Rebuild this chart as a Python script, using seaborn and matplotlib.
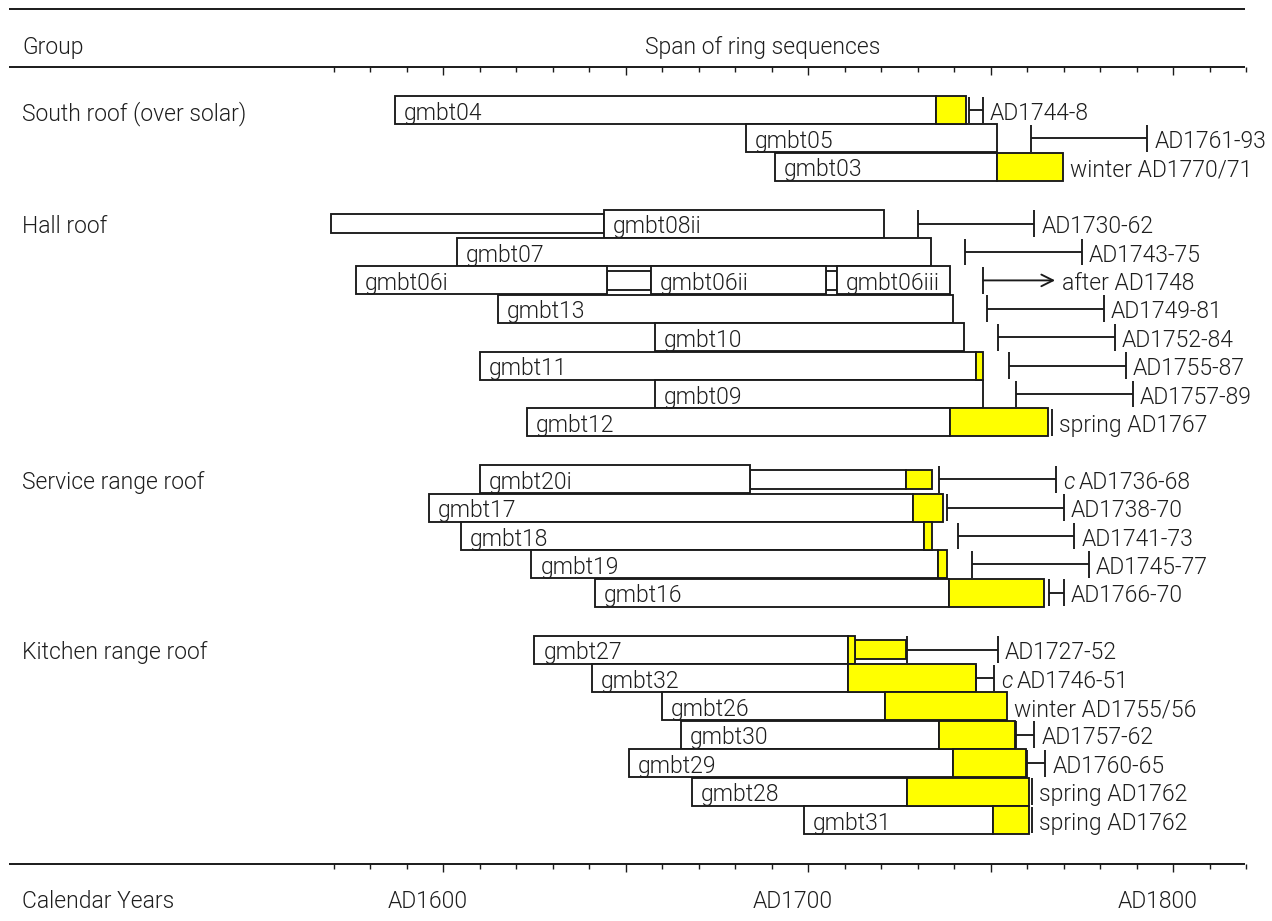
import matplotlib
matplotlib.use("Agg")
import matplotlib.pyplot as plt
import seaborn as sns
import pandas as pd

# ---------------- data ----------------
groups = ["South roof (over solar)", "Hall roof", "Service range roof", "Kitchen range roof"]
group_members = [
    ["04", "05", "03"],
    ["08", "07", "06", "13", "10", "11", "09", "12"],
    ["20", "17", "18", "19", "16"],
    ["27", "32", "26", "30", "29", "28", "31"],
]

# bar segments: sample, start year, end year, fill, full/narrow
seg_sample = ["04", "04", "05", "03", "03",
              "08", "08", "07", "06", "06", "06", "06", "06", "13", "10", "11", "11", "09", "12", "12",
              "20", "20", "20", "17", "17", "18", "18", "19", "19", "16", "16",
              "27", "27", "27", "32", "32", "26", "26", "30", "30", "29", "29", "28", "28", "31", "31"]
seg_start = [1586.8, 1735.0, 1683.0, 1691.0, 1751.7,
             1569.2, 1644.0, 1603.8, 1576.1, 1644.9, 1656.9, 1704.9, 1707.9, 1615.0, 1658.0, 1610.1, 1745.9, 1658.0, 1623.0, 1738.9,
             1610.0, 1684.0, 1726.8, 1596.1, 1728.8, 1604.9, 1731.9, 1624.2, 1735.7, 1641.7, 1738.7,
             1625.0, 1710.9, 1712.8, 1640.8, 1710.9, 1660.0, 1721.0, 1665.1, 1735.8, 1651.0, 1739.8, 1668.1, 1727.0, 1698.8, 1750.8]
seg_end = [1735.0, 1743.3, 1751.7, 1751.7, 1769.8,
           1644.0, 1720.9, 1733.8, 1644.9, 1656.9, 1704.9, 1707.9, 1738.9, 1739.7, 1742.8, 1745.9, 1747.9, 1747.9, 1738.9, 1765.8,
           1684.0, 1726.8, 1733.9, 1728.8, 1736.9, 1731.9, 1733.9, 1735.7, 1738.0, 1738.7, 1764.6,
           1710.9, 1712.8, 1726.8, 1710.9, 1745.9, 1721.0, 1754.6, 1735.8, 1756.6, 1739.8, 1759.8, 1727.0, 1760.6, 1750.8, 1760.6]
seg_fill = ["w", "y", "w", "w", "y",
            "w", "w", "w", "w", "w", "w", "w", "w", "w", "w", "w", "y", "w", "w", "y",
            "w", "w", "y", "w", "y", "w", "y", "w", "y", "w", "y",
            "w", "y", "y", "w", "y", "w", "y", "w", "y", "w", "y", "w", "y", "w", "y"]
seg_size = ["f", "f", "f", "f", "f",
            "n", "f", "f", "f", "n", "f", "n", "f", "f", "f", "f", "f", "f", "f", "f",
            "f", "n", "n", "f", "f", "f", "f", "f", "f", "f", "f",
            "f", "f", "n", "f", "f", "f", "f", "f", "f", "f", "f", "f", "f", "f", "f"]

# sample labels inside bars
lab_sample = ["04", "05", "03", "08", "07", "06", "06", "06", "13", "10", "11", "09", "12",
              "20", "17", "18", "19", "16", "27", "32", "26", "30", "29", "28", "31"]
lab_text = ["gmbt04", "gmbt05", "gmbt03", "gmbt08ii", "gmbt07", "gmbt06i", "gmbt06ii", "gmbt06iii",
            "gmbt13", "gmbt10", "gmbt11", "gmbt09", "gmbt12",
            "gmbt20i", "gmbt17", "gmbt18", "gmbt19", "gmbt16",
            "gmbt27", "gmbt32", "gmbt26", "gmbt30", "gmbt29", "gmbt28", "gmbt31"]
lab_year = [1586.8, 1683.0, 1691.0, 1644.0, 1603.8, 1576.1, 1656.9, 1707.9,
            1615.0, 1658.0, 1610.1, 1658.0, 1623.0,
            1610.0, 1596.1, 1604.9, 1624.2, 1641.7,
            1625.0, 1640.8, 1660.0, 1665.1, 1651.0, 1668.1, 1698.8]

# felling date ranges / dates
fell_sample = ["04", "05", "03", "08", "07", "06", "13", "10", "11", "09", "12",
               "20", "17", "18", "19", "16", "27", "32", "26", "30", "29", "28", "31"]
fell_kind = ["range", "range", "none", "range", "range", "arrow", "range", "range", "range", "range", "tick",
             "range", "range", "range", "range", "range", "range", "range", "none", "range", "range", "tick", "tick"]
fell_from = [1744, 1761, None, 1730, 1743, 1748, 1749, 1752, 1755, 1757, None,
             1736, 1738, 1741, 1745, 1766, 1727, 1746, None, 1757, 1760, None, None]
fell_to = [1748, 1793, 1769.8, 1762, 1775, 1767.7, 1781, 1784, 1787, 1789, 1766.8,
           1768, 1770, 1773, 1777, 1770, 1752, 1751, 1754.6, 1762, 1765, 1761.5, 1761.5]
fell_circa = [False, False, False, False, False, False, False, False, False, False, False,
              True, False, False, False, False, False, True, False, False, False, False, False]
fell_text = ["AD1744-8", "AD1761-93", "winter AD1770/71", "AD1730-62", "AD1743-75", "after AD1748",
             "AD1749-81", "AD1752-84", "AD1755-87", "AD1757-89", "spring AD1767",
             "AD1736-68", "AD1738-70", "AD1741-73", "AD1745-77", "AD1766-70",
             "AD1727-52", "AD1746-51", "winter AD1755/56", "AD1757-62", "AD1760-65",
             "spring AD1762", "spring AD1762"]

axis_years = list(range(1570, 1821, 10))
axis_labels = {1600: "AD1600", 1700: "AD1700", 1800: "AD1800"}

# ---------------- layout ----------------
W, H, DPI = 1272, 921, 100
PX0, PXPY = 443.0, 3.65          # pixel of AD1600, pixels per year
RY0, RPX = 110.0, 28.4           # pixel of row 0 centre, pixels per row


def yr(px):
    return 1600 + (px - PX0) / PXPY


def rw(py):
    return (py - RY0) / RPX


sns.set_theme(style="white")
FONT = ["Roboto", "DejaVu Sans"]
plt.rcParams["font.family"] = FONT
TXT = "#1e1e1e"
FS = 16.5
WEIGHT = 300

fig = plt.figure(figsize=(W / DPI, H / DPI), dpi=DPI)
ax = fig.add_axes([0, 0, 1, 1])
ax.set_xlim(yr(0), yr(W))
ax.set_ylim(rw(H), rw(0))
ax.axis("off")

# row positions
row_of = {}
group_row = []
r = 0
for g, mem in zip(groups, group_members):
    group_row.append(r)
    for m in mem:
        row_of[m] = r
        r += 1
    r += 1

segs = pd.DataFrame(dict(sample=seg_sample, start=seg_start, end=seg_end, fill=seg_fill, size=seg_size))
segs["row"] = segs["sample"].map(row_of)

FULL_H, NARROW_H = 0.99, 0.68
LW = 1.35
for size, hgt in (("f", FULL_H), ("n", NARROW_H)):
    for fill, col in (("w", "white"), ("y", "#ffff00")):
        sub = segs[(segs["size"] == size) & (segs["fill"] == fill)]
        if len(sub):
            ax.barh(sub["row"], sub["end"] - sub["start"], left=sub["start"], height=hgt,
                    color=col, edgecolor="#1a1a1a", linewidth=LW, zorder=3 if size == "f" else 2)

# sample labels
for s, t, x in zip(lab_sample, lab_text, lab_year):
    ax.annotate(t, xy=(x, row_of[s]), xytext=(6.5, -2.3), textcoords="offset points",
                ha="left", va="center", fontsize=FS, fontweight=WEIGHT, color=TXT, zorder=5)

# felling ranges
TICK_H = 0.95
for s, k, a, b, c, t in zip(fell_sample, fell_kind, fell_from, fell_to, fell_circa, fell_text):
    y = row_of[s]
    if k == "range":
        ax.hlines(y, a, b, color="#1a1a1a", lw=LW, zorder=4)
        ax.vlines([a, b], y - TICK_H / 2, y + TICK_H / 2, color="#1a1a1a", lw=LW, zorder=4)
    elif k == "arrow":
        ax.vlines([a], y - TICK_H / 2, y + TICK_H / 2, color="#1a1a1a", lw=LW, zorder=4)
        ax.annotate("", xy=(b, y), xytext=(a, y),
                    arrowprops=dict(arrowstyle="->,head_length=0.7,head_width=0.35", color="#1a1a1a", lw=LW,
                                    shrinkA=0, shrinkB=0), zorder=4)
    elif k == "tick":
        ax.vlines([b], y - TICK_H / 2, y + TICK_H / 2, color="#1a1a1a", lw=LW, zorder=4)
    dx = 5.0
    if c:
        ax.annotate("c", xy=(b, y), xytext=(dx, -2.3), textcoords="offset points", ha="left", va="center",
                    fontsize=FS, fontweight=WEIGHT, fontstyle="italic", color=TXT)
        dx += 11
    ax.annotate(t, xy=(b, y), xytext=(dx, -2.3), textcoords="offset points", ha="left", va="center",
                fontsize=FS, fontweight=WEIGHT, color=TXT)

# group labels
for g, r0 in zip(groups, group_row):
    ax.annotate(g, xy=(yr(22), r0), xytext=(0, -2.3), textcoords="offset points",
                ha="left", va="center", fontsize=FS, fontweight=WEIGHT, color=TXT)

# frame lines, headers and axis ticks
xl, xr = yr(9), yr(1245)
for py in (9, 67, 864):
    ax.hlines(rw(py), xl, xr, color="#1a1a1a", lw=1.4, zorder=1)
for py in (67, 864):
    for yv in axis_years:
        L = 8 if yv % 50 == 0 else 5
        ax.vlines(yv, rw(py), rw(py + L), color="#1a1a1a", lw=1.0)

ax.text(yr(22), rw(47), "Group", ha="left", va="center", fontsize=FS, fontweight=WEIGHT, color=TXT)
ax.text(yr(763), rw(47), "Span of ring sequences", ha="center", va="center", fontsize=FS,
        fontweight=WEIGHT, color=TXT)
ax.text(yr(22), rw(901), "Calendar Years", ha="left", va="center", fontsize=FS, fontweight=WEIGHT, color=TXT)
for yv, t in axis_labels.items():
    ax.annotate(t, xy=(yv, rw(901)), xytext=(-11, 0), textcoords="offset points", ha="center", va="center",
                fontsize=FS, fontweight=WEIGHT, color=TXT)

fig.savefig("out.png", dpi=DPI, facecolor="white")
